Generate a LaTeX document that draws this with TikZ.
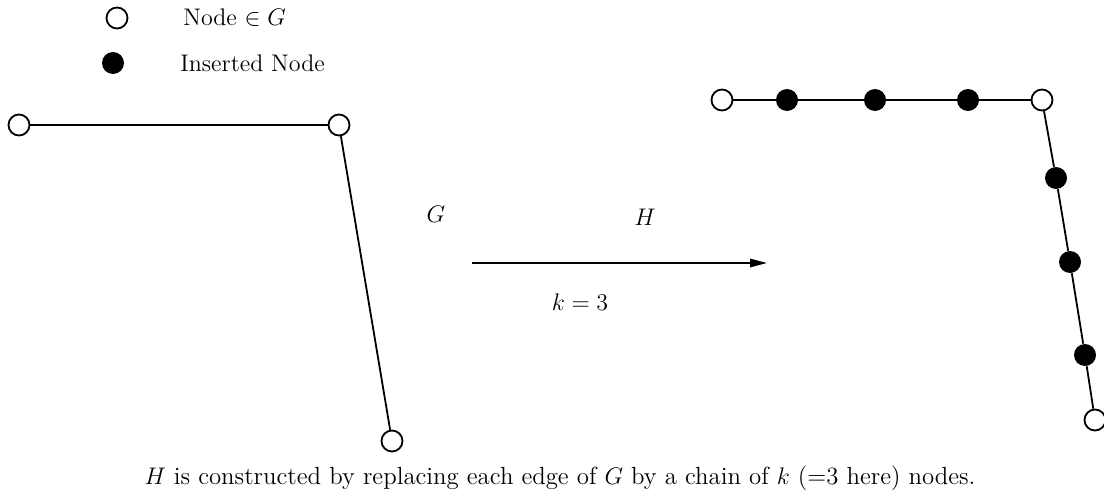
\documentclass[tikz,border=0pt]{standalone}
\usepackage{amsmath,amssymb}
\usepackage{tikz}
\usetikzlibrary{positioning,arrows.meta}

\begin{document}
\begin{tikzpicture}[
		x=0.5pt, y=-0.5pt,
		font=\large,
		gnode/.style={draw, circle, line width=0.9pt, fill=white, minimum size=10.5pt, inner sep=0pt},
		ins/.style={circle, fill=black, minimum size=11pt, inner sep=0pt},
		lnk/.style={line width=0.9pt},
		lbl/.style={inner sep=0pt},
		arr/.style={-{Triangle[length=8.5pt, width=4.2pt]}, line width=0.9pt}
		]
		\useasboundingbox (0,0) rectangle (1104,498);
		% legend
		\node[gnode] (keyg) at (117,18) {};
		\node[lbl, anchor=west] (keygt) at (183,18) {Node $\in G$};
		\node[ins] (keyi) at (113,63) {};
		\node[lbl, anchor=west] (keyit) at (180,63) {Inserted Node};
		% graph G
		\node[gnode] (g1) at (19,125) {};
		\node[gnode] (g2) at (339,125) {};
		\node[gnode] (g3) at (392,441) {};
		\draw[lnk] (g1) -- (g2);
		\draw[lnk] (g2) -- (g3);
		% transformation
		\node[lbl] (lg) at (436,214) {$G$};
		\node[lbl] (lh) at (645,217) {$H$};
		\coordinate (a0) at (472,263);
		\coordinate (a1) at (767,263);
		\draw[arr] (a0) -- (a1);
		\node[lbl] (lk) at (580,302) {$k=3$};
		% graph H
		\node[gnode] (h1) at (722,100) {};
		\node[ins] (h2) at (787,100) {};
		\node[ins] (h3) at (875,100) {};
		\node[ins] (h4) at (968,100) {};
		\node[gnode] (h5) at (1042,100) {};
		\node[ins] (h6) at (1056,178) {};
		\node[ins] (h7) at (1070,262) {};
		\node[ins] (h8) at (1085,355) {};
		\node[gnode] (h9) at (1095,420) {};
		\draw[lnk] (h1) -- (h2) -- (h3) -- (h4) -- (h5);
		\draw[lnk] (h5) -- (h6) -- (h7) -- (h8) -- (h9);
		% caption
		\node[lbl, font=\fontsize{12.4}{15}\selectfont] (cap) at (560,478)
		{$H$ is constructed by replacing each edge of $G$ by a chain of $k$ (=3 here) nodes.};
	\end{tikzpicture}
\end{document}
